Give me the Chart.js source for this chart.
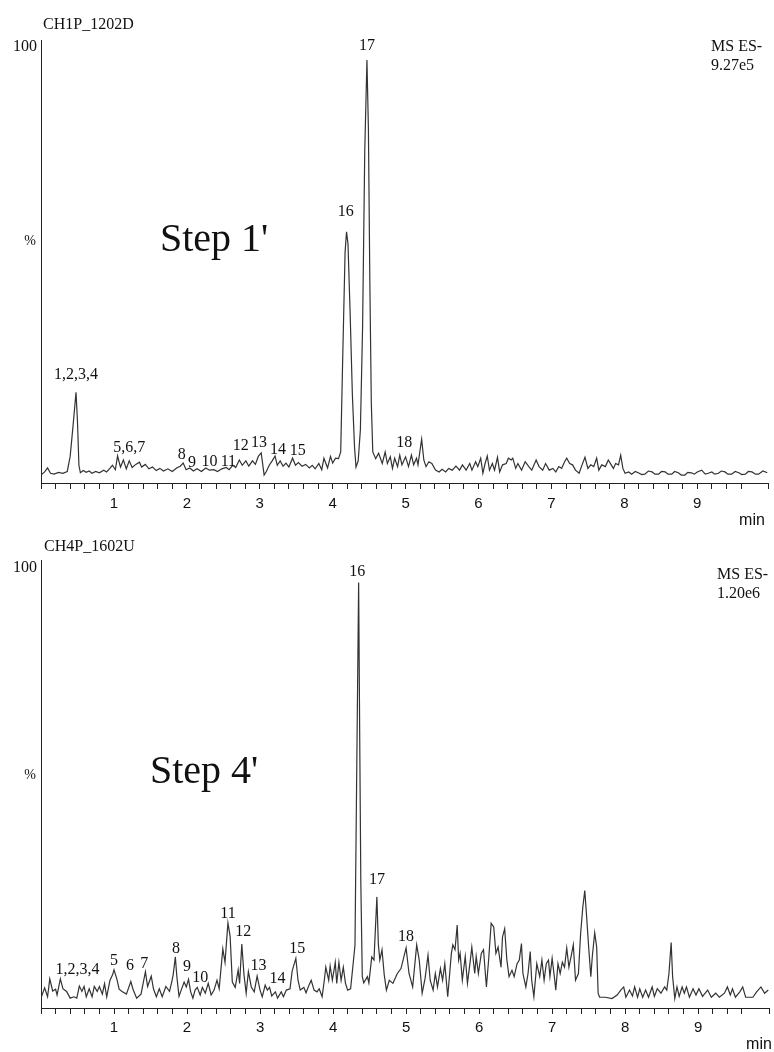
<!DOCTYPE html>
<html lang="en">
<head>
    <meta charset="UTF-8">
    <title>Chromatograms</title>
    <script src="https://cdn.jsdelivr.net/npm/chart.js@4.4.0/dist/chart.umd.min.js"></script>
    <style>
        body { margin: 0; background: #fff; }
        #c1 { position: absolute; left: 0; top: 0; }
        #c2 { position: absolute; left: 0; top: 530px; }
    </style>
</head>
<body>
<canvas id="c1" width="774" height="530"></canvas>
<canvas id="c2" width="774" height="522"></canvas>
<script>
// retention time (min) and intensity (%)
var time1 = [
    0.00,0.05,0.09,0.13,0.18,0.24,0.30,0.36,0.40,0.44,
    0.48,0.50,0.52,0.54,0.58,0.62,0.66,0.70,0.75,0.80,
    0.86,0.90,0.95,0.98,1.02,1.05,1.09,1.13,1.17,1.21,
    1.25,1.30,1.35,1.38,1.43,1.48,1.53,1.58,1.63,1.68,
    1.74,1.80,1.86,1.91,1.95,1.99,2.04,2.09,2.14,2.20,
    2.26,2.31,2.37,2.42,2.48,2.54,2.58,2.63,2.67,2.72,
    2.76,2.81,2.85,2.90,2.94,2.98,3.02,3.06,3.09,3.13,
    3.17,3.21,3.24,3.28,3.32,3.36,3.40,3.45,3.49,3.53,
    3.58,3.63,3.68,3.72,3.76,3.81,3.85,3.88,3.93,3.97,
    4.00,4.04,4.08,4.11,4.14,4.17,4.19,4.21,4.24,4.27,
    4.30,4.32,4.35,4.38,4.41,4.44,4.47,4.49,4.51,4.53,
    4.55,4.59,4.63,4.68,4.72,4.75,4.79,4.82,4.85,4.89,
    4.92,4.95,5.00,5.04,5.08,5.11,5.15,5.17,5.22,5.25,
    5.28,5.32,5.36,5.41,5.46,5.50,5.55,5.59,5.64,5.69,
    5.74,5.78,5.83,5.88,5.91,5.96,5.99,6.03,6.06,6.09,
    6.12,6.15,6.19,6.22,6.26,6.29,6.33,6.38,6.41,6.45,
    6.47,6.51,6.54,6.59,6.64,6.69,6.73,6.79,6.83,6.88,
    6.92,6.97,7.02,7.06,7.10,7.14,7.18,7.21,7.25,7.29,
    7.33,7.38,7.42,7.46,7.50,7.54,7.58,7.62,7.65,7.69,
    7.74,7.78,7.82,7.85,7.88,7.92,7.95,7.98,8.01,8.06,
    8.10,8.15,8.19,8.24,8.28,8.33,8.38,8.42,8.47,8.51,
    8.56,8.60,8.65,8.69,8.74,8.78,8.83,8.87,8.92,8.96,
    9.00,9.06,9.11,9.15,9.20,9.24,9.29,9.33,9.38,9.42,
    9.47,9.52,9.57,9.61,9.66,9.70,9.75,9.80,9.84,9.90,
    9.96
];
var int1 = [
    1.8,2.5,3.4,2.2,2.0,2.4,2.2,2.6,6,13,
    20.5,14,4,2.3,2.8,2.4,2.7,2.2,2.6,2.3,
    2.9,2.5,3.4,4.0,3.0,6.1,3.6,5.2,3.2,5.0,
    3.5,4.2,4.7,3.6,4.2,3.2,3.6,2.8,3.3,2.7,
    3.2,2.6,3.4,3.8,4.5,3.0,3.4,2.7,3.2,2.6,
    3.4,2.9,3.0,2.6,3.2,3.5,3.0,4.0,3.5,5.2,
    4.0,5.0,3.8,5.0,4.2,6.0,6.8,1.8,2.6,4.0,
    5.0,6.1,4.0,5.0,3.8,4.5,3.6,5.6,4.0,4.6,
    3.8,4.2,3.4,4.0,3.2,4.4,3.0,5.6,3.4,6.0,
    4.5,5.6,5.5,7,30,52,56.7,54,38,20,
    8,3.6,5,12,35,75,95.5,80,45,18,
    7,5.5,6.7,4.4,7.0,4.4,5.9,3.3,5.6,3.7,
    6.3,4.1,5.9,3.7,6.3,4.1,5.6,4.1,9.9,5.2,
    3.7,4.8,4.4,2.9,2.5,3.1,2.5,3.3,2.9,3.8,
    2.9,4.1,2.9,4.4,2.9,4.8,3.7,5.6,2.2,4.4,
    6.1,2.9,4.4,2.9,5.8,2.5,4.1,4.4,5.6,5.2,
    5.6,3.3,4.4,2.9,4.8,3.7,2.9,5.2,3.7,2.9,
    4.4,2.9,3.3,2.5,3.7,3.3,4.8,5.6,4.4,4.1,
    2.9,2.2,4.1,5.8,3.3,4.1,3.7,5.6,2.9,4.1,
    3.7,5.2,4.1,3.3,4.4,4.1,6.3,3.3,2.2,2.5,
    2.0,2.6,2.3,1.9,2.0,2.7,2.5,2.0,2.0,2.6,
    2.5,2.0,2.0,2.6,2.3,1.8,1.8,2.4,2.3,2.0,
    2.5,2.9,2.0,2.2,2.5,2.0,2.2,2.7,2.5,2.0,
    2.0,2.6,2.3,1.9,2.0,2.6,2.5,2.0,2.0,2.7,
    2.3
];
var time2 = [
    0.00,0.05,0.09,0.12,0.16,0.20,0.22,0.265,0.30,0.35,
    0.40,0.45,0.49,0.525,0.56,0.59,0.62,0.66,0.70,0.73,
    0.77,0.80,0.84,0.87,0.90,0.945,0.98,1.00,1.04,1.07,
    1.11,1.17,1.23,1.26,1.31,1.37,1.43,1.46,1.51,1.54,
    1.58,1.62,1.66,1.71,1.76,1.79,1.81,1.84,1.86,1.89,
    1.92,1.96,1.99,2.02,2.05,2.08,2.11,2.14,2.18,2.21,
    2.25,2.29,2.33,2.37,2.41,2.44,2.49,2.52,2.56,2.59,
    2.62,2.66,2.70,2.72,2.75,2.78,2.81,2.84,2.88,2.92,
    2.96,3.00,3.03,3.07,3.10,3.13,3.16,3.21,3.24,3.29,
    3.32,3.36,3.41,3.44,3.49,3.52,3.55,3.60,3.63,3.67,
    3.70,3.74,3.78,3.81,3.85,3.88,3.90,3.94,3.96,3.99,
    4.03,4.05,4.08,4.11,4.14,4.17,4.20,4.24,4.27,4.30,
    4.35,4.365,4.38,4.40,4.42,4.47,4.49,4.53,4.56,4.60,
    4.62,4.64,4.67,4.70,4.73,4.77,4.82,4.88,4.93,5.00,
    5.04,5.09,5.145,5.18,5.22,5.26,5.30,5.33,5.37,5.40,
    5.43,5.47,5.50,5.53,5.57,5.62,5.64,5.67,5.70,5.72,
    5.74,5.77,5.81,5.84,5.88,5.90,5.94,5.96,5.99,6.03,
    6.06,6.10,6.13,6.165,6.20,6.23,6.26,6.30,6.32,6.35,
    6.38,6.41,6.45,6.48,6.52,6.55,6.58,6.60,6.64,6.67,
    6.70,6.72,6.75,6.79,6.83,6.86,6.89,6.92,6.95,6.97,
    7.00,7.03,7.05,7.08,7.11,7.14,7.17,7.20,7.23,7.26,
    7.29,7.32,7.36,7.39,7.42,7.447,7.47,7.50,7.53,7.55,
    7.583,7.61,7.63,7.65,7.73,7.82,7.89,7.94,7.98,8.01,
    8.06,8.10,8.13,8.17,8.20,8.24,8.28,8.32,8.37,8.40,
    8.44,8.49,8.54,8.57,8.60,8.63,8.65,8.68,8.71,8.74,
    8.78,8.81,8.84,8.88,8.93,8.97,9.01,9.06,9.13,9.18,
    9.24,9.29,9.36,9.40,9.44,9.47,9.51,9.57,9.61,9.65,
    9.75,9.80,9.86,9.91,9.96
];
var int2 = [
    2.2,4.5,2.5,6.5,3.8,4.2,2.9,6.5,4.3,3.7,
    2.2,2.5,2.2,4.9,3.7,4.8,2.5,4.3,2.5,4.8,
    3.7,4.8,3.1,5.4,2.5,6.2,7.4,8.5,6.4,4.2,
    3.7,3.1,5.9,4.2,2.2,3.1,8.1,4.8,7.1,4.3,
    2.5,4.3,2.5,4.8,3.7,5.8,7.4,11.4,7.1,2.6,
    4.0,5.8,4.7,6.4,3.6,2.2,4.0,4.6,2.9,4.6,
    3.3,5.5,2.9,4.0,6.2,4.3,13.2,10.2,19.0,16,
    5.8,4.6,8.5,5.5,14.3,7.4,3.3,8.1,4.7,3.6,
    7.1,4.0,2.5,5.1,4.0,4.6,2.7,3.6,2.2,3.6,
    2.5,4.0,4.3,8.3,11.1,6.2,4.0,4.6,3.4,5.1,
    6.2,4.0,3.6,4.3,2.5,6.2,9.1,6.2,9.4,6.2,
    10.2,5.5,10.2,6.2,9.1,5.5,4.0,4.3,9.1,14,
    95,60,28,7,5.6,7,5.6,11.4,10.7,24.8,
    14.2,10.7,13,7.5,4.0,6.2,5.5,7.7,8.8,13.4,
    7.7,4.7,14.1,10.7,3.3,6.6,11.8,6.2,4.0,7.7,
    4.7,8.8,6.2,9.9,2.5,12.2,14.1,13,18.5,10.7,
    12.2,6.2,11.5,5.5,10.7,13.6,7.7,11.5,7.7,12.2,
    13,4.7,10.7,18.9,18.1,12.2,13.6,9.1,15.8,17.7,
    10.7,7.0,8.4,7.0,9.9,10.7,14.4,7.7,4.7,7.7,
    12.6,6.2,2.5,9.9,7.0,10.7,6.2,9.9,10.7,7.0,
    11.1,7.0,4.0,9.9,7.7,10.2,9.1,13.4,9.1,11.5,
    14.1,6.2,7.7,16.6,22.5,26.2,21,13.6,7.0,11.5,
    16.8,13.6,3.3,2.4,2.4,2.1,2.9,4.0,4.7,2.4,
    4.0,2.7,4.7,2.4,4.3,2.4,4.0,2.4,4.7,2.6,
    4.3,3.3,4.7,4.0,7.7,14.6,7.0,2.1,4.7,2.6,
    4.7,3.3,4.7,2.4,4.3,2.9,4.3,2.6,4.0,2.4,
    3.3,2.4,3.3,4.7,2.9,4.3,2.4,3.6,4.7,2.4,
    2.4,3.6,4.7,3.3,4.0
];

// peak numbers: text, time, height (%) of the label
var peakText1 = ['1,2,3,4','5,6,7','8','9','10','11','12','13','14','15','16','17','18'];
var peakTime1 = [0.48,1.21,1.93,2.07,2.31,2.57,2.74,2.99,3.25,3.52,4.18,4.47,4.98];
var peakPct1  = [24.4,7.9,6.3,4.6,4.8,4.8,8.4,9.0,7.6,7.3,61.2,98.6,9.0];
var peakText2 = ['1,2,3,4','5','6','7','8','9','10','11','12','13','14','15','16','17','18'];
var peakTime2 = [0.5,1.0,1.22,1.415,1.85,2.0,2.18,2.56,2.77,2.98,3.24,3.51,4.33,4.6,5.0];
var peakPct2  = [8.5,10.6,9.4,9.8,13.2,9.2,6.8,21.1,17.0,9.4,6.5,13.3,97.4,28.6,15.9];

var xMax = 9.97;

if (time1.length != int1.length || time2.length != int2.length) {
    throw new Error('length mismatch ' + time1.length + '/' + int1.length + ' ' + time2.length + '/' + int2.length);
}

function toPoints(t, v) {
    var pts = [];
    for (var i = 0; i < t.length; i++) pts.push({x: t[i], y: v[i]});
    return pts;
}

var SERIF = '"Liberation Serif", "Times New Roman", serif';
var SANS = '"Liberation Sans", Arial, sans-serif';

function textPlugin(cfg) {
    return {
        id: 'txt',
        afterDraw: function (chart) {
            var ctx = chart.ctx, xs = chart.scales.x, ys = chart.scales.y;
            ctx.save();
            ctx.fillStyle = '#111';
            ctx.textBaseline = 'middle';
            ctx.textAlign = 'center';
            ctx.font = '16px ' + SERIF;
            for (var i = 0; i < cfg.text.length; i++) {
                ctx.fillText(cfg.text[i], xs.getPixelForValue(cfg.time[i]), ys.getPixelForValue(cfg.pct[i]));
            }
            ctx.textAlign = 'left';
            ctx.fillText(cfg.title, cfg.titleX, cfg.titleY);
            ctx.fillText('MS ES-', cfg.msX, cfg.msY);
            ctx.fillText(cfg.scale, cfg.msX, cfg.msY + 19);
            ctx.textAlign = 'right';
            ctx.fillText('100', 37, cfg.hundredY);
            ctx.textAlign = 'center';
            ctx.font = '14px ' + SERIF;
            ctx.fillText('%', 30, cfg.pctY);
            ctx.font = '16px ' + SANS;
            ctx.fillText('min', cfg.minX, cfg.minY);
            ctx.textAlign = 'left';
            ctx.font = '40px ' + SERIF;
            ctx.fillText(cfg.step, cfg.stepX, cfg.stepY);
            ctx.restore();
        }
    };
}

function makeChart(id, t, v, padTop, axisH, labPad, cfg) {
    return new Chart(document.getElementById(id), {
        type: 'line',
        data: {
            datasets: [{
                data: toPoints(t, v),
                borderColor: '#333333',
                borderWidth: 1.2,
                pointRadius: 0,
                tension: 0,
                fill: false
            }]
        },
        options: {
            responsive: false,
            animation: false,
            events: [],
            layout: {padding: {top: padTop, right: 5, left: 0, bottom: 0}},
            plugins: {legend: {display: false}, tooltip: {enabled: false}},
            scales: {
                x: {
                    type: 'linear', min: 0, max: xMax,
                    afterFit: function (s) { s.height = axisH; },
                    ticks: {
                        stepSize: 0.2, autoSkip: false, maxRotation: 0, padding: labPad,
                        color: '#111', font: {family: SANS, size: 15},
                        callback: function (val) {
                            return (Math.abs(val - Math.round(val)) < 1e-6 && val > 0) ? String(Math.round(val)) : '';
                        }
                    },
                    grid: {display: true, drawOnChartArea: false, drawTicks: true, tickLength: 6, tickColor: '#222'},
                    border: {display: true, color: '#222', width: 1}
                },
                y: {
                    min: 0, max: 100,
                    afterFit: function (s) { s.width = 41; },
                    ticks: {display: false},
                    grid: {display: false},
                    border: {display: true, color: '#222', width: 1}
                }
            }
        },
        plugins: [textPlugin(cfg)]
    });
}

makeChart('c1', time1, int1, 40, 47, 6, {
    text: peakText1, time: peakTime1, pct: peakPct1,
    title: 'CH1P_1202D', titleX: 43, titleY: 25,
    scale: '9.27e5', msX: 711, msY: 47,
    hundredY: 47, pctY: 241,
    minX: 752, minY: 521,
    step: "Step 1'", stepX: 160, stepY: 240
});

makeChart('c2', time2, int2, 30, 44, 5, {
    text: peakText2, time: peakTime2, pct: peakPct2,
    title: 'CH4P_1602U', titleX: 44, titleY: 17,
    scale: '1.20e6', msX: 717, msY: 45,
    hundredY: 38, pctY: 245,
    minX: 759, minY: 515,
    step: "Step 4'", stepX: 150, stepY: 242
});
</script>
</body>
</html>
